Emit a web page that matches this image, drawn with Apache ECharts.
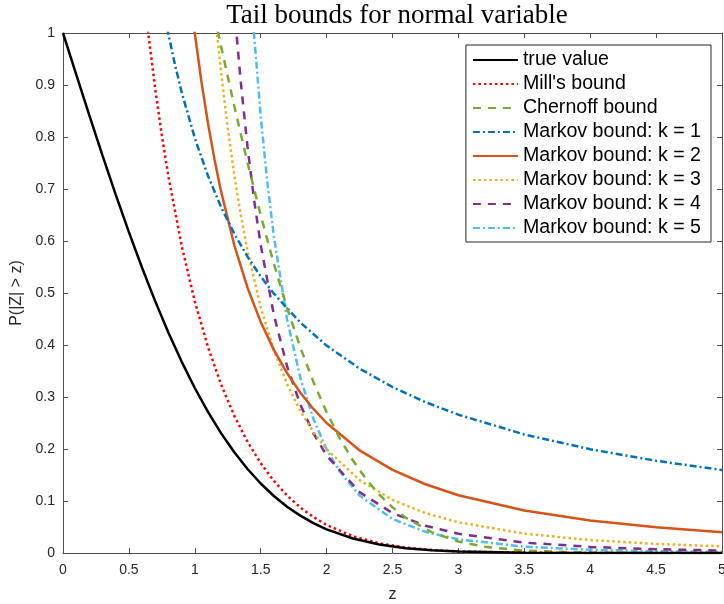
<!DOCTYPE html>
<html>
<head>
<meta charset="utf-8">
<script src="https://cdn.jsdelivr.net/npm/echarts@6/dist/echarts.min.js"></script>
<style>
  html, body { margin: 0; padding: 0; background: #fff; }
  #container { width: 724px; height: 604px; }
</style>
</head>
<body>
<div id="container"></div>
<script>
// values, [z, P] pairs
var trueValue = [[0,1],[0.1,0.9203],[0.2,0.8415],[0.3,0.7642],[0.4,0.6892],[0.5,0.6171],[0.6,0.5485],[0.7,0.4839],[0.8,0.4237],[0.9,0.3681],[1,0.3173],[1.1,0.2713],[1.2,0.2301],[1.3,0.1936],[1.4,0.1615],[1.5,0.1336],[1.6,0.1096],[1.7,0.0891],[1.8,0.0719],[1.9,0.0574],[2,0.0455],[2.2,0.0278],[2.4,0.0164],[2.6,0.0093],[2.8,0.0051],[3,0.0027],[3.5,0.0005],[4,0.0001],[5,0]];
var millsBound = [[0.6,1.1108],[0.65,0.9938],[0.7,0.8922],[0.75,0.803],[0.8,0.7242],[0.9,0.5913],[1,0.4839],[1.1,0.3961],[1.2,0.3237],[1.3,0.2637],[1.4,0.2139],[1.5,0.1727],[1.6,0.1386],[1.7,0.1106],[1.8,0.0877],[1.9,0.0691],[2,0.054],[2.2,0.0322],[2.4,0.0187],[2.6,0.0104],[2.8,0.0056],[3,0.003],[3.5,0.0005],[4,0.0001],[5,0]];
var chernoffBound = [[1.15,1.0324],[1.2,0.9735],[1.3,0.8592],[1.4,0.7506],[1.5,0.6494],[1.6,0.556],[1.7,0.4714],[1.8,0.3958],[1.9,0.329],[2,0.2707],[2.1,0.2205],[2.2,0.1778],[2.3,0.142],[2.4,0.1122],[2.5,0.0879],[2.6,0.068],[2.8,0.0397],[3,0.0222],[3.2,0.012],[3.5,0.0044],[4,0.0007],[4.5,0.0001],[5,0]];
var markov1 = [[0.79,1.01],[0.8,0.9974],[0.85,0.9387],[0.9,0.8866],[1,0.7979],[1.1,0.7254],[1.2,0.6649],[1.3,0.6138],[1.4,0.5699],[1.5,0.5319],[1.6,0.4987],[1.8,0.4433],[2,0.3989],[2.25,0.3546],[2.5,0.3192],[2.75,0.2901],[3,0.266],[3.5,0.228],[4,0.1995],[4.5,0.1773],[5,0.1596]];
var markov2 = [[0.99,1.02],[1,1],[1.05,0.907],[1.1,0.8264],[1.15,0.7561],[1.2,0.6944],[1.3,0.5917],[1.4,0.5102],[1.5,0.4444],[1.6,0.3906],[1.7,0.346],[1.8,0.3086],[1.9,0.277],[2,0.25],[2.25,0.1975],[2.5,0.16],[2.75,0.1322],[3,0.1111],[3.5,0.0816],[4,0.0625],[4.5,0.0494],[5,0.04]];
var markov3 = [[1.15,1.0493],[1.17,0.9964],[1.2,0.9235],[1.25,0.8171],[1.3,0.7264],[1.35,0.6486],[1.4,0.5816],[1.5,0.4728],[1.6,0.3896],[1.7,0.3248],[1.8,0.2736],[1.9,0.2327],[2,0.1995],[2.25,0.1401],[2.5,0.1021],[2.75,0.0767],[3,0.0591],[3.5,0.0372],[4,0.0249],[4.5,0.0175],[5,0.0128]];
var markov4 = [[1.3,1.0504],[1.32,0.9881],[1.35,0.9032],[1.4,0.7809],[1.45,0.6787],[1.5,0.5926],[1.6,0.4578],[1.7,0.3592],[1.8,0.2858],[1.9,0.2302],[2,0.1875],[2.25,0.1171],[2.5,0.0768],[2.75,0.0525],[3,0.037],[3.5,0.02],[4,0.0117],[4.5,0.0073],[5,0.0048]];
var markov5 = [[1.44,1.0309],[1.45,0.9958],[1.5,0.8406],[1.55,0.7135],[1.6,0.6087],[1.7,0.4496],[1.8,0.3378],[1.9,0.2578],[2,0.1995],[2.1,0.1563],[2.25,0.1107],[2.5,0.0654],[2.75,0.0406],[3,0.0263],[3.5,0.0122],[4,0.0062],[4.5,0.0035],[5,0.002]];

var names = ['true value', "Mill's bound", 'Chernoff bound', 'Markov bound: k = 1',
  'Markov bound: k = 2', 'Markov bound: k = 3', 'Markov bound: k = 4', 'Markov bound: k = 5'];
var seriesData = [trueValue, millsBound, chernoffBound, markov1, markov2, markov3, markov4, markov5];
var colors = ['#000000', '#ff0000', '#77ac30', '#0072bd', '#d95319', '#edb120', '#7e2f8e', '#4dbeee'];
var dashes = ['solid', [2.5, 3], [8, 7], [7, 3, 2, 3], 'solid', [2.5, 3], [8, 7], [7, 3, 2, 3]];

var axisColor = '#4d4d4d';
var font = 'Liberation Sans, Arial, Helvetica, sans-serif';

var chart = echarts.init(document.getElementById('container'));

var series = names.map(function (n, i) {
  return {
    name: n,
    type: 'line',
    data: seriesData[i],
    symbol: 'none',
    clip: true,
    animation: false,
    lineStyle: { color: colors[i], width: 2.5, type: dashes[i] },
    itemStyle: { color: colors[i] },
    z: 10 - i
  };
});

var option = {
  backgroundColor: '#fff',
  animation: false,
  title: {
    text: 'Tail bounds for normal variable',
    left: 392, top: -3, textAlign: 'center',
    textStyle: { fontFamily: 'Liberation Serif, Times New Roman, serif', fontWeight: 'normal', fontSize: 27, color: '#000' }
  },
  grid: { left: 63, right: 2, top: 33, bottom: 51, outerBoundsMode: 'none', containLabel: false },
  legend: {
    data: names,
    orient: 'vertical',
    right: 13, top: 45,
    padding: [5, 10, 4, 6],
    itemWidth: 45, itemHeight: 16, itemGap: 4,
    backgroundColor: '#fff',
    borderColor: '#262626', borderWidth: 1,
    borderRadius: 0,
    itemStyle: { opacity: 0 },
    textStyle: { fontFamily: font, fontSize: 19.6, color: '#000' }
  },
  xAxis: [{
    type: 'value', min: 0, max: 5, interval: 0.5,
    name: 'z', nameLocation: 'middle', nameGap: 34,
    nameTextStyle: { fontFamily: font, fontSize: 16, color: '#262626' },
    axisLine: { onZero: false, lineStyle: { color: axisColor } },
    axisTick: { inside: true, length: 5, lineStyle: { color: axisColor } },
    axisLabel: { fontFamily: font, fontSize: 14, color: '#262626', margin: 10 },
    splitLine: { show: false }
  }, {
    type: 'value', min: 0, max: 5, interval: 0.5, position: 'top',
    axisLine: { show: true, onZero: false, lineStyle: { color: axisColor } },
    axisTick: { inside: true, length: 5, lineStyle: { color: axisColor } },
    axisLabel: { show: false }, splitLine: { show: false }
  }],
  yAxis: [{
    type: 'value', min: 0, max: 1, interval: 0.1,
    name: 'P(|Z| > z)', nameLocation: 'middle', nameGap: 31,
    nameTextStyle: { fontFamily: font, fontSize: 16, color: '#262626' },
    axisLine: { show: true, onZero: false, lineStyle: { color: axisColor } },
    axisTick: { show: true, inside: true, length: 5, lineStyle: { color: axisColor } },
    axisLabel: { fontFamily: font, fontSize: 14, color: '#262626', margin: 8 },
    splitLine: { show: false }
  }, {
    type: 'value', min: 0, max: 1, interval: 0.1, position: 'right',
    axisLine: { show: true, onZero: false, lineStyle: { color: axisColor } },
    axisTick: { show: true, inside: true, length: 5, lineStyle: { color: axisColor } },
    axisLabel: { show: false }, splitLine: { show: false }
  }],
  series: series
};

chart.setOption(option);
</script>
</body>
</html>
